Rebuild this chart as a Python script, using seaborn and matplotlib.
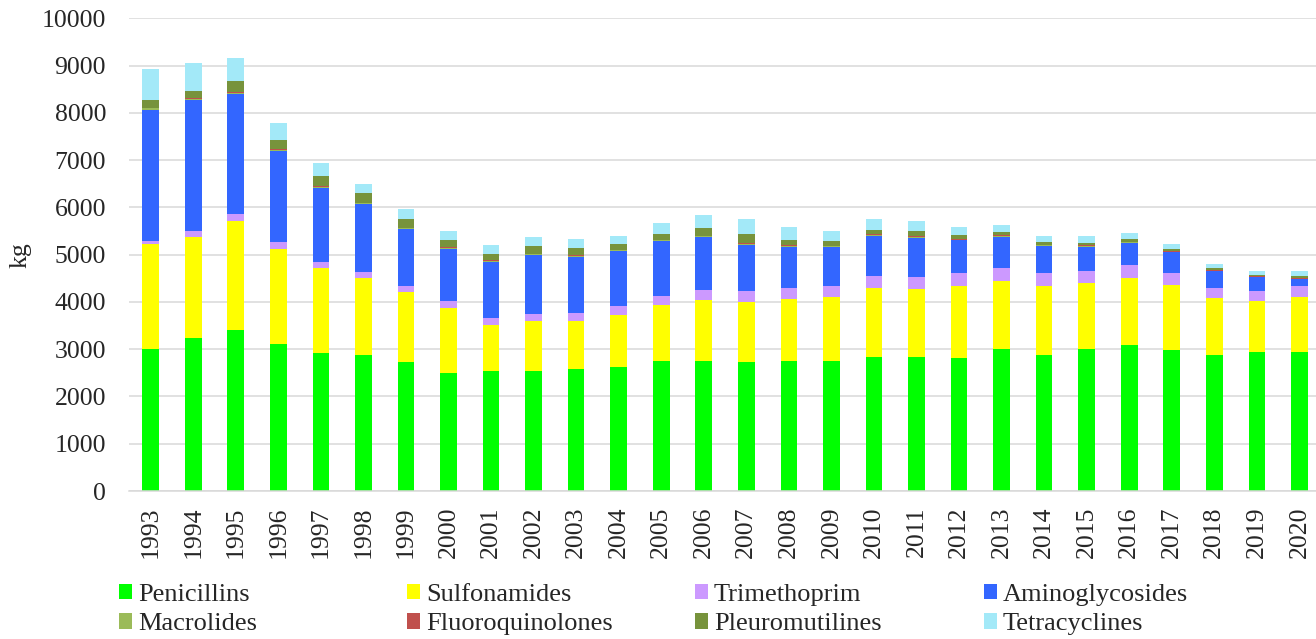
import numpy as np
import pandas as pd
import matplotlib
matplotlib.use("Agg")
import matplotlib.pyplot as plt
from matplotlib.patches import Patch
import seaborn as sns

# ---- data (kg) ----
years = [str(y) for y in range(1993, 2021)]
penicillins = [3000, 3240, 3400, 3100, 2920, 2880, 2730, 2490, 2530, 2530, 2580, 2630, 2740, 2740,
               2720, 2750, 2755, 2840, 2840, 2820, 3010, 2870, 3010, 3080, 2980, 2870, 2930, 2950]
sulfonamides = [2230, 2140, 2320, 2030, 1790, 1630, 1480, 1390, 980, 1060, 1020, 1100, 1185, 1300,
                1280, 1310, 1340, 1445, 1440, 1510, 1440, 1470, 1380, 1430, 1385, 1205, 1080, 1160]
trimethoprim = [50, 127, 135, 135, 130, 130, 135, 135, 155, 165, 160, 185, 190, 220,
                235, 225, 240, 260, 255, 290, 275, 275, 255, 270, 255, 225, 225, 235]
aminoglycosides = [2790, 2760, 2540, 1920, 1580, 1430, 1190, 1115, 1190, 1235, 1200, 1160, 1165, 1110,
                   975, 885, 825, 855, 820, 680, 655, 565, 520, 465, 430, 345, 285, 135]
macrolides = [30, 35, 30, 30, 20, 15, 20, 15, 15, 15, 15, 15, 20, 20,
              20, 20, 15, 20, 15, 20, 15, 15, 15, 15, 15, 15, 15, 15]
fluoroquinolones = [10, 10, 10, 10, 10, 10, 10, 10, 10, 10, 15, 10, 15, 15,
                    15, 15, 15, 15, 15, 15, 15, 15, 15, 15, 15, 15, 15, 20]
pleuromutilines = [160, 160, 230, 210, 210, 200, 190, 160, 140, 175, 160, 115, 120, 150,
                   185, 115, 105, 90, 105, 80, 75, 55, 60, 50, 45, 35, 25, 40]
tetracyclines = [660, 590, 500, 360, 280, 210, 220, 180, 190, 190, 180, 190, 230, 275,
                 325, 260, 210, 230, 225, 175, 150, 135, 150, 125, 90, 100, 85, 100]

series_names = ["Penicillins", "Sulfonamides", "Trimethoprim", "Aminoglycosides",
                "Macrolides", "Fluoroquinolones", "Pleuromutilines", "Tetracyclines"]
series_values = [penicillins, sulfonamides, trimethoprim, aminoglycosides,
                 macrolides, fluoroquinolones, pleuromutilines, tetracyclines]
colors = ["#00FF00", "#FFFF00", "#CC99FF", "#3366FF",
          "#9BBB59", "#C0504D", "#77933C", "#A3E9F8"]

# ---- style ----
sns.set_style("white")
plt.rcParams["font.family"] = ["Liberation Serif", "DejaVu Serif"]

fig = plt.figure(figsize=(13.16, 6.39), dpi=100)
W, H = 1316, 639
ax = fig.add_axes([129 / W, 148 / H, (W - 129) / W, (491 - 18.3) / H])

df = pd.DataFrame({n: v for n, v in zip(series_names, series_values)}, index=years)
cum = df.cumsum(axis=1)

# draw cumulative totals from the top series down, so each lower segment overlays
for name, col in reversed(list(zip(series_names, colors))):
    sns.barplot(x=years, y=cum[name].values, order=years, color=col, saturation=1,
                width=0.39, errorbar=None, ax=ax, linewidth=0)

ax.set_xlim(-0.51, 27.39)
ax.set_ylim(0, 10000)
ax.set_yticks(np.arange(0, 10001, 1000))
ax.yaxis.grid(True, color="#d9d9d9", linewidth=1.1)
ax.xaxis.grid(False)
ax.set_axisbelow(True)
for s in ["left", "right", "top"]:
    ax.spines[s].set_visible(False)
ax.spines["bottom"].set_color("#d9d9d9")
ax.spines["bottom"].set_linewidth(1.1)

ax.tick_params(axis="y", length=0, pad=16.5, labelsize=18.5)
ax.tick_params(axis="x", length=0, pad=11, labelsize=18.5, labelrotation=90)
ax.set_xlabel("")
ax.set_ylabel("kg", fontsize=18.5)
ax.yaxis.set_label_coords(-0.082, 0.5)

# ---- legend: 4 equally spaced columns of 2 entries ----
fs = 19
col_x = [119, 407, 695, 984]
cols = [[0, 4], [1, 5], [2, 6], [3, 7]]
for x, idx in zip(col_x, cols):
    handles = [Patch(facecolor=colors[i], edgecolor="none") for i in idx]
    labels = [series_names[i] for i in idx]
    fig.legend(handles, labels, loc="upper left", bbox_to_anchor=(x / W, 1 - 584 / H),
               frameon=False, fontsize=fs, ncol=1, borderpad=0, borderaxespad=0,
               handlelength=0.51, handleheight=0.51, handletextpad=0.21, labelspacing=0.28)

fig.savefig("out.png", dpi=100)
